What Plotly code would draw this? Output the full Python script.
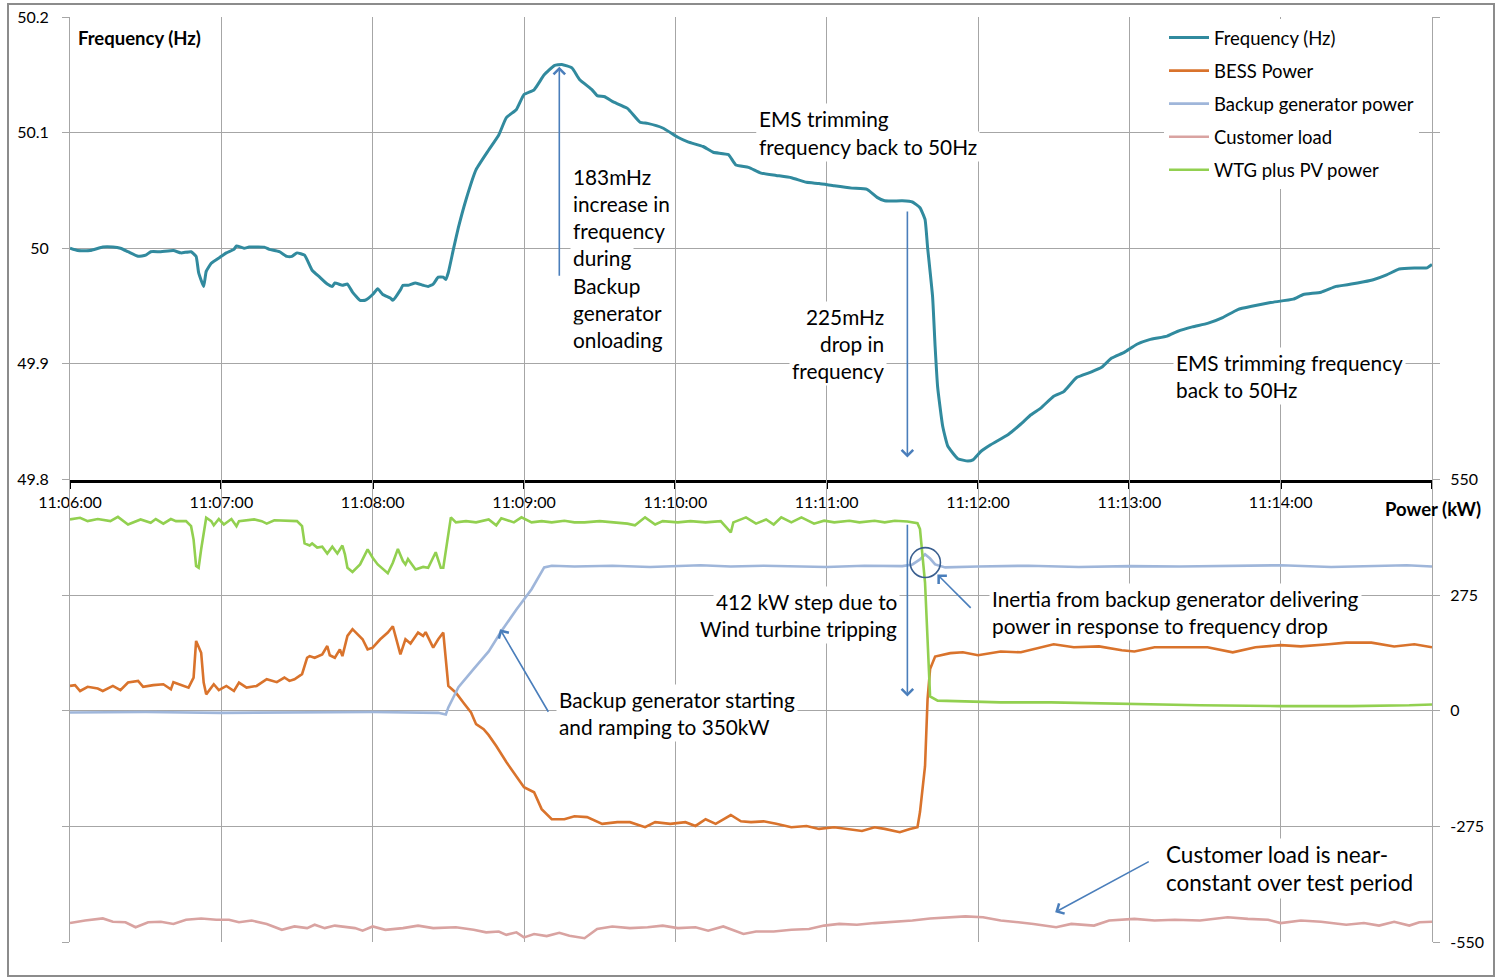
import pandas as pd
import plotly.graph_objects as go

# ---------------------------------------------------------------- data
# seconds after 11:06:00 and recorded values for each series
FREQ_T = [0, 3, 8, 13, 17, 20, 23, 27, 30, 32,
          36, 41, 44, 48, 50, 51, 53, 54, 56, 60,
          62, 65, 66, 69, 71, 77, 79, 83, 86, 88,
          90, 93, 96, 99, 102, 104, 105, 108, 110, 112,
          115, 117, 120, 122, 124, 127, 128, 131, 132, 134,
          137, 140, 142, 144, 146, 148, 149, 150, 152, 154,
          157, 161, 166, 170, 173, 177, 180, 184, 188, 192,
          195, 199, 202, 207, 209, 212, 215, 221, 226, 229,
          235, 241, 245, 251, 255, 261, 264, 269, 274, 280,
          286, 292, 297, 303, 310, 316, 320, 323, 330, 334,
          337, 339, 340, 342, 343, 344, 346, 348, 352, 356,
          358, 361, 365, 372, 377, 381, 385, 390, 394, 399,
          405, 409, 413, 418, 423, 428, 435, 439, 445, 451,
          457, 463, 469, 476, 485, 489, 496, 502, 508, 513,
          517, 522, 527, 533, 538, 540]
FREQ_HZ = [50.000, 49.998, 49.998, 50.001, 50.001, 50.000, 49.997, 49.993, 49.994, 49.997,
           49.997, 49.998, 49.996, 49.997, 49.993, 49.979, 49.967, 49.980, 49.987, 49.993,
           49.996, 49.999, 50.002, 50.000, 50.001, 50.001, 49.999, 49.997, 49.993, 49.993,
           49.996, 49.994, 49.981, 49.975, 49.969, 49.967, 49.970, 49.968, 49.969, 49.962,
           49.955, 49.955, 49.960, 49.965, 49.960, 49.957, 49.955, 49.964, 49.968, 49.968,
           49.970, 49.968, 49.967, 49.969, 49.975, 49.975, 49.973, 49.979, 49.999, 50.018,
           50.042, 50.068, 50.085, 50.098, 50.113, 50.120, 50.133, 50.137, 50.150, 50.158,
           50.159, 50.156, 50.146, 50.137, 50.132, 50.131, 50.127, 50.121, 50.109, 50.108,
           50.104, 50.096, 50.092, 50.088, 50.083, 50.081, 50.072, 50.070, 50.065, 50.063,
           50.061, 50.057, 50.056, 50.054, 50.052, 50.051, 50.044, 50.041, 50.041, 50.040,
           50.035, 50.025, 50.001, 49.958, 49.915, 49.880, 49.846, 49.829, 49.818, 49.816,
           49.817, 49.824, 49.830, 49.839, 49.848, 49.856, 49.862, 49.872, 49.876, 49.888,
           49.893, 49.897, 49.905, 49.910, 49.917, 49.921, 49.924, 49.928, 49.932, 49.935,
           49.940, 49.947, 49.950, 49.953, 49.956, 49.960, 49.962, 49.967, 49.969, 49.971,
           49.973, 49.977, 49.982, 49.983, 49.983, 49.986]

BESS_T = [0, 2, 4, 7, 11, 13, 17, 20, 23, 27,
          29, 33, 37, 40, 41, 44, 47, 49, 50, 52,
          53, 54, 57, 59, 62, 65, 67, 70, 74, 78,
          82, 85, 87, 89, 92, 94, 95, 97, 100, 102,
          103, 105, 107, 108, 110, 112, 114, 116, 118, 120,
          123, 126, 128, 131, 133, 135, 138, 140, 141, 144,
          146, 148, 150, 153, 156, 159, 161, 164, 166, 169,
          173, 177, 180, 184, 187, 191, 196, 200, 205, 211,
          217, 222, 228, 232, 238, 244, 248, 252, 256, 262,
          266, 270, 275, 280, 286, 292, 297, 303, 309, 314,
          319, 323, 329, 333, 336, 337, 339, 340, 341, 343,
          349, 354, 360, 369, 377, 382, 390, 398, 408, 417,
          422, 430, 440, 451, 461, 470, 480, 488, 499, 506,
          516, 525, 533, 540]
BESS_KW = [59, 61, 47, 57, 53, 47, 59, 49, 67, 71,
           57, 61, 63, 51, 68, 61, 55, 79, 166, 138,
           67, 39, 63, 49, 59, 47, 67, 55, 59, 75,
           68, 79, 71, 75, 87, 126, 130, 126, 134, 154,
           132, 126, 146, 130, 178, 194, 182, 170, 146, 150,
           170, 186, 201, 134, 170, 160, 186, 178, 187, 150,
           170, 186, 59, 43, 19, -4, -32, -44, -58, -84,
           -122, -156, -182, -194, -234, -258, -258, -251, -253, -269,
           -265, -265, -277, -265, -269, -265, -274, -258, -269, -248,
           -263, -265, -263, -269, -277, -274, -281, -277, -281, -286,
           -277, -281, -289, -281, -277, -241, -132, 27, 99, 129,
           137, 139, 132, 141, 139, 146, 158, 151, 153, 144,
           141, 151, 151, 151, 139, 151, 156, 153, 158, 162,
           162, 153, 158, 151]

GEN_T = [0, 30, 60, 90, 120, 146, 149, 150, 154, 160,
         166, 171, 177, 183, 188, 191, 200, 215, 230, 250,
         262, 275, 290, 300, 315, 330, 334, 337, 339, 341,
         343, 347, 360, 380, 400, 420, 440, 460, 480, 500,
         520, 530, 540]
GEN_KW = [-4, -3, -5, -4, -3, -5, -9, 8, 56, 99,
          141, 189, 241, 289, 341, 345, 343, 345, 342, 346,
          343, 345, 343, 342, 345, 344, 348, 360, 372, 362,
          348, 341, 343, 345, 342, 344, 343, 345, 346, 342,
          344, 346, 343]

LOAD_T = [0, 6, 13, 17, 22, 26, 31, 36, 41, 46,
          52, 58, 63, 67, 72, 78, 84, 89, 94, 97,
          101, 105, 113, 116, 120, 125, 132, 138, 144, 153,
          160, 165, 170, 173, 177, 180, 184, 189, 194, 198,
          204, 209, 215, 222, 229, 235, 241, 248, 253, 259,
          267, 272, 279, 286, 293, 299, 305, 312, 319, 326,
          334, 341, 348, 355, 362, 369, 376, 382, 391, 397,
          406, 412, 422, 430, 438, 448, 459, 467, 475, 480,
          488, 496, 506, 513, 519, 525, 531, 535, 540]
LOAD_KW = [-505, -499, -494, -502, -503, -515, -503, -502, -507, -497,
           -494, -497, -497, -503, -499, -507, -521, -513, -517, -509,
           -517, -511, -517, -523, -513, -521, -517, -511, -517, -515,
           -521, -527, -525, -533, -527, -539, -531, -536, -528, -535,
           -541, -519, -513, -517, -515, -511, -517, -515, -523, -513,
           -531, -525, -525, -521, -519, -511, -507, -509, -505, -503,
           -499, -494, -491, -489, -491, -499, -503, -507, -515, -507,
           -511, -499, -495, -499, -497, -499, -491, -495, -497, -505,
           -499, -502, -509, -505, -511, -502, -511, -503, -502]

WTG_T = [0, 4, 7, 11, 16, 19, 23, 28, 32, 34,
         37, 40, 42, 46, 48, 49, 50, 51, 52, 54,
         56, 57, 59, 61, 64, 66, 67, 73, 76, 78,
         81, 86, 90, 92, 93, 95, 96, 98, 100, 102,
         104, 106, 108, 109, 110, 112, 115, 118, 120, 122,
         124, 126, 128, 130, 132, 133, 134, 137, 140, 142,
         145, 147, 148, 151, 153, 157, 161, 166, 169, 171,
         176, 179, 183, 187, 191, 196, 200, 204, 210, 215,
         221, 224, 228, 232, 235, 241, 246, 252, 258, 262,
         263, 268, 272, 276, 279, 282, 286, 290, 295, 299,
         303, 309, 313, 319, 323, 327, 332, 336, 337, 339,
         340, 341, 344, 351, 360, 369, 389, 408, 420, 448,
         480, 508, 531, 540]
WTG_KW = [455, 459, 451, 456, 451, 461, 443, 455, 447, 456,
          445, 456, 451, 451, 439, 407, 344, 340, 384, 459,
          451, 441, 456, 443, 456, 439, 451, 455, 451, 445,
          453, 451, 451, 439, 398, 393, 398, 388, 390, 374,
          390, 374, 393, 372, 340, 330, 348, 384, 364, 348,
          338, 327, 352, 385, 356, 348, 361, 336, 342, 340,
          377, 340, 340, 460, 448, 451, 448, 455, 441, 458,
          448, 460, 448, 451, 448, 452, 448, 448, 451, 448,
          445, 441, 460, 443, 451, 448, 451, 448, 451, 424,
          448, 460, 445, 455, 443, 460, 448, 460, 445, 452,
          448, 452, 448, 452, 448, 452, 450, 446, 432, 305,
          146, 34, 24, 23, 23, 20, 20, 18, 15, 13,
          11, 11, 13, 15]

TICK_SECONDS = [0, 60, 120, 180, 240, 300, 360, 420, 480, 540]
TICK_LABELS = ["11:06:00", "11:07:00", "11:08:00", "11:09:00", "11:10:00",
               "11:11:00", "11:12:00", "11:13:00", "11:14:00", ""]
FREQ_TICKS = [49.8, 49.9, 50.0, 50.1, 50.2]
FREQ_TICK_LABELS = ["49.8", "49.9", "50", "50.1", "50.2"]
POWER_TICKS = [-550, -275, 0, 275, 550]
POWER_TICK_LABELS = ["-550", "-275", "0", "275", "550"]

# ---------------------------------------------------------------- style
FONT = "Lato"
C_FREQ = "#318A9E"
C_BESS = "#D9732C"
C_GEN = "#9FB6DA"
C_LOAD = "#D9A3A1"
C_WTG = "#92D050"
C_GRID = "#A6A6A6"
C_ARROW = "#4A7EBB"

BASE = pd.Timestamp("2016-01-01 11:06:00")


def ts(sec):
    return BASE + pd.to_timedelta(sec, unit="s")


def times(secs):
    return [ts(s) for s in secs]


# plot area in pixels: left 70, right 1432, top 17, bottom 942
L, R, T, B = 70, 1432, 17, 942


def px(x):
    return (x - L) / (R - L)


def py(y):
    return (B - y) / (B - T)


fig = go.Figure()

series = [
    ("Frequency (Hz)", FREQ_T, FREQ_HZ, C_FREQ, "y", 3),
    ("BESS Power", BESS_T, BESS_KW, C_BESS, "y2", 2.6),
    ("Backup generator power", GEN_T, GEN_KW, C_GEN, "y2", 2.6),
    ("Customer load", LOAD_T, LOAD_KW, C_LOAD, "y2", 2.6),
    ("WTG plus PV power", WTG_T, WTG_KW, C_WTG, "y2", 2.6),
]
for name, t, v, color, yax, w in series:
    fig.add_trace(go.Scatter(
        x=times(t), y=v, name=name, mode="lines", yaxis=yax,
        legendgroup=name,
        line=dict(color=color, width=w,
                  shape="spline" if yax == "y" else "linear",
                  smoothing=0.4),
    ))

fig.update_layout(
    width=1495, height=977,
    margin=dict(l=L, r=1495 - R, t=T, b=977 - B, pad=0, autoexpand=False),
    paper_bgcolor="white", plot_bgcolor="white",
    font=dict(family=FONT, size=16, color="black"),
    showlegend=True,
    legend=dict(
        x=px(1164), y=py(19), xanchor="left", yanchor="top",
        bgcolor="white", borderwidth=0,
        font=dict(family=FONT, size=18.5, color="black"),
        tracegroupgap=6, itemwidth=40,
    ),
    xaxis=dict(
        type="date", range=[ts(0), ts(540)], anchor="y", automargin=False,
        tickvals=times(TICK_SECONDS), ticktext=TICK_LABELS,
        ticks="outside", ticklen=6, tickwidth=2, tickcolor="black",
        showline=True, linecolor="black", linewidth=3,
        showgrid=True, gridcolor=C_GRID, gridwidth=1,
        tickfont=dict(size=16, color="black"),
        zeroline=False,
    ),
    yaxis=dict(
        domain=[0.5, 1], range=[49.8, 50.2], anchor="x", automargin=False,
        tickvals=FREQ_TICKS, ticktext=FREQ_TICK_LABELS,
        ticks="outside", ticklen=7, tickcolor=C_GRID,
        ticklabelstandoff=10,
        showline=True, linecolor=C_GRID, linewidth=1, mirror="ticks",
        showgrid=True, gridcolor=C_GRID, gridwidth=1, zeroline=False,
        tickfont=dict(size=16, color="black"),
    ),
    yaxis2=dict(
        domain=[0, 0.5], range=[-550, 550], anchor="x", side="right",
        automargin=False,
        tickvals=POWER_TICKS, ticktext=POWER_TICK_LABELS,
        ticks="outside", ticklen=7, tickcolor=C_GRID,
        ticklabelstandoff=7,
        showline=True, linecolor=C_GRID, linewidth=1, mirror="ticks",
        showgrid=True, gridcolor=C_GRID, gridwidth=1, zeroline=False,
        tickfont=dict(size=16, color="black"),
    ),
)

# axis captions
fig.add_annotation(text="<b>Frequency (Hz)</b>", xref="paper", yref="paper",
                   x=px(76), y=py(38), xanchor="left", yanchor="middle",
                   showarrow=False, font=dict(size=18.5))
fig.add_annotation(text="<b>Power (kW)</b>", xref="paper", yref="paper",
                   x=px(1483), y=py(509), xanchor="right", yanchor="middle",
                   showarrow=False, font=dict(size=18.5))

SHIFT = 1  # text middle sits slightly low, lift each line a little


def text_block(lines, x, y_first, anchor="left", step=27.3, size=20.8):
    for i, line in enumerate(lines):
        fig.add_annotation(
            text=line, xref="paper", yref="paper",
            x=px(x), y=py(y_first + i * step - SHIFT),
            xanchor=anchor, yanchor="middle", showarrow=False,
            bgcolor="white", borderpad=2,
            font=dict(family=FONT, size=size, color="black"),
        )


text_block(["183mHz", "increase in", "frequency", "during", "Backup",
            "generator", "onloading"], 570, 177)
text_block(["EMS trimming", "frequency back to 50Hz"], 756, 120)
text_block(["225mHz", "drop in", "frequency"], 887, 317, anchor="right")
text_block(["EMS trimming frequency", "back to 50Hz"], 1173, 364, step=26.5)
text_block(["412 kW step due to", "Wind turbine tripping"], 900, 602, anchor="right")
text_block(["Inertia from backup generator delivering",
            "power in response to frequency drop"], 989, 599)
text_block(["Backup generator starting", "and ramping to 350kW"], 556, 700)
text_block(["Customer load is near-", "constant over test period"], 1163, 855,
           step=28.5, size=22.5)


def arrow(t_head, v_head, t_tail, v_tail, yref):
    fig.add_annotation(
        x=ts(t_head), y=v_head, ax=ts(t_tail), ay=v_tail,
        xref="x", yref=yref, axref="x", ayref=yref,
        text="", showarrow=True, arrowhead=4, arrowsize=1.4,
        arrowwidth=1.6, arrowcolor=C_ARROW, standoff=0, startstandoff=0,
    )


arrow(194, 50.157, 194, 49.975, "y")        # frequency rise
arrow(332, 49.819, 332, 50.033, "y")        # frequency drop
arrow(332, 34, 332, 446, "y2")              # wind turbine step
arrow(170.5, 194, 190, -6, "y2")            # generator ramp
arrow(343.9, 324, 357.7, 241, "y2")         # generator inertia
arrow(390.6, -479, 428.3, -357, "y2")       # customer load

# circle around the generator inertia bump
fig.add_shape(type="circle", xref="x", yref="y2",
              x0=ts(333.1), x1=ts(345.1), y0=317, y1=388,
              line=dict(color="#3A5F8F", width=1.6))

# outer frame
fig.add_shape(type="rect", xref="paper", yref="paper",
              x0=px(8), x1=px(1494), y0=py(976), y1=py(4),
              line=dict(color="#8C8C8C", width=2), layer="below")

fig.write_html("out.html")
